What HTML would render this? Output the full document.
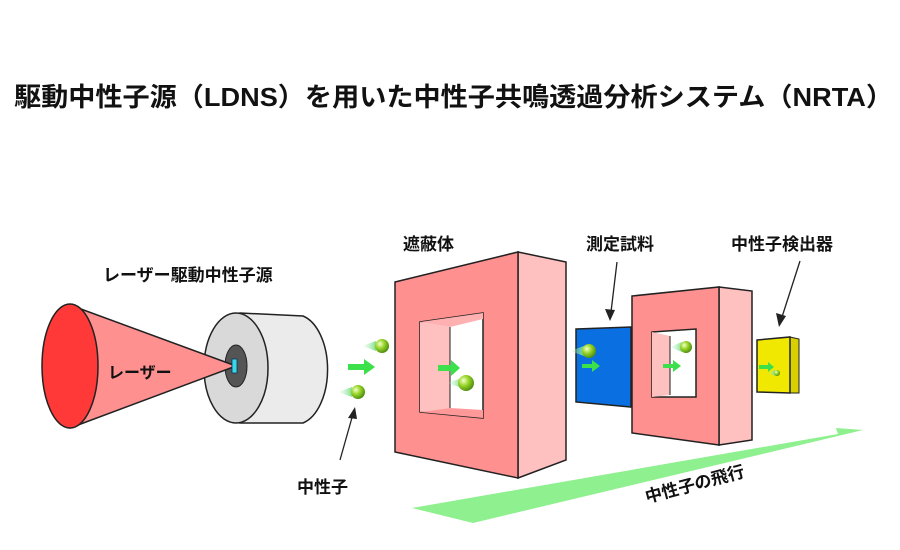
<!DOCTYPE html>
<html><head><meta charset="utf-8"><style>
html,body{margin:0;padding:0;background:#fff;}
svg{display:block;}
text{font-family:"Liberation Sans","Noto Sans CJK JP",sans-serif;font-weight:bold;fill:#111;}
</style></head><body>
<svg width="900" height="550" viewBox="0 0 900 550" xmlns="http://www.w3.org/2000/svg">
<defs>
<radialGradient id="ball" cx="0.35" cy="0.35" r="0.7">
<stop offset="0" stop-color="#f4ffd0"/><stop offset="0.45" stop-color="#9ad62a"/><stop offset="1" stop-color="#4a8a10"/>
</radialGradient>
<linearGradient id="tail" x1="0" x2="1"><stop offset="0" stop-color="#b8f0c0" stop-opacity="0"/><stop offset="1" stop-color="#7de08a"/></linearGradient>
</defs>
<text x="14" y="106" font-size="26" textLength="879" lengthAdjust="spacingAndGlyphs">駆動中性子源（LDNS）を用いた中性子共鳴透過分析システム（NRTA）</text>

<!-- floor arrow -->
<polygon points="412,508 838,434 836,428 863,430 473,523" fill="#8ef08e"/>
<text x="0" y="0" font-size="17" transform="translate(647,503) rotate(-15)">中性子の飛行</text>

<!-- cylinder -->
<path d="M240,313 L303,316 A32,55 0 0 1 303,423 L240,423 Z" fill="#ebebeb" stroke="#222" stroke-width="1.5"/>
<ellipse cx="236" cy="368" rx="32" ry="55" fill="#d9d9d9" stroke="#222" stroke-width="1.5"/>
<ellipse cx="236" cy="366" rx="11" ry="21" fill="#555" stroke="#222" stroke-width="1"/>

<!-- laser cone -->
<polygon points="70,305 236,366 70,428" fill="#ff9090" stroke="#222" stroke-width="1.5" stroke-linejoin="round"/>
<ellipse cx="70" cy="366" rx="28" ry="62" fill="#ff3838" stroke="#222" stroke-width="1.5"/>
<text x="108" y="378" font-size="16">レーザー</text>
<rect x="232" y="359" width="5" height="14" fill="#39d8e8" stroke="#135" stroke-width="0.8"/>
<text x="103" y="281" font-size="17">レーザー駆動中性子源</text>

<!-- neutrons -->
<polygon points="362,346 376,341 376,351" fill="url(#tail)"/>
<circle cx="382" cy="346" r="7" fill="url(#ball)"/>
<polygon points="338,392 352,387 352,397" fill="url(#tail)"/>
<circle cx="358" cy="392" r="7" fill="url(#ball)"/>
<polygon points="348,364 364,364 364,359 375,367 364,375 364,370 348,370" fill="#3ce04a"/>
<line x1="340" y1="460" x2="353" y2="414" stroke="#222" stroke-width="1.3"/>
<polygon points="355,407 348,418 357,419" fill="#222"/>
<text x="297" y="493" font-size="17">中性子</text>

<!-- big shield -->
<polygon points="518,252 566,262 566,460 518,478" fill="#ffc0c0" stroke="#222" stroke-width="1.5"/>
<polygon points="395,282 518,252 518,478 395,452" fill="#ff9090" stroke="#222" stroke-width="1.5"/>
<polygon points="420,322 483,313 483,418 420,412" fill="#fff" stroke="#222" stroke-width="1.5"/>
<polygon points="420,322 450,327 450,408 420,412" fill="#ffc0c0"/>
<polygon points="420,322 483,313 483,319 450,327" fill="#ffb0b0"/>
<polygon points="420,412 450,408 483,410 483,418" fill="#ff9898"/>
<line x1="450" y1="327" x2="450" y2="408" stroke="#222" stroke-width="1"/>
<polygon points="438,365 451,365 451,360 460,368 451,376 451,371 438,371" fill="#3ce04a"/>
<polygon points="447,383 462,378 462,388" fill="url(#tail)"/>
<circle cx="466" cy="383" r="8" fill="url(#ball)"/>
<text x="403" y="250" font-size="17">遮蔽体</text>

<!-- blue sample -->
<polygon points="631,327 639,329 639,406 631,407" fill="#7cc0ff" stroke="#222" stroke-width="1"/>
<polygon points="576,329 631,327 631,407 576,402" fill="#0a6fe0" stroke="#222" stroke-width="1.5"/>
<polygon points="570,351 584,346 584,356" fill="url(#tail)"/>
<circle cx="589" cy="351" r="7" fill="url(#ball)"/>
<polygon points="582,364 592,364 592,360 600,366 592,372 592,368 582,368" fill="#3ce04a"/>
<text x="586" y="250" font-size="17">測定試料</text>
<line x1="617" y1="262" x2="611" y2="312" stroke="#222" stroke-width="1.3"/>
<polygon points="610,321 605,309 615,310" fill="#222"/>

<!-- second shield -->
<polygon points="719,287 752,291 752,440 719,445" fill="#ffc0c0" stroke="#222" stroke-width="1.5"/>
<polygon points="632,296 719,287 719,445 632,433" fill="#ff9090" stroke="#222" stroke-width="1.5"/>
<polygon points="652,332 696,329 696,397 652,397" fill="#fff" stroke="#222" stroke-width="1.5"/>
<polygon points="652,332 670,336 670,395 652,397" fill="#ffc0c0"/>
<line x1="670" y1="336" x2="670" y2="395" stroke="#222" stroke-width="1"/>
<polygon points="670,347 682,342 682,352" fill="url(#tail)"/>
<circle cx="686" cy="347" r="6" fill="url(#ball)"/>
<polygon points="663,364 673,364 673,360 681,366 673,372 673,368 663,368" fill="#3ce04a"/>

<!-- detector -->
<polygon points="790,337 799,339 799,393 790,393" fill="#d8d000" stroke="#222" stroke-width="1"/>
<polygon points="757,340 790,337 790,393 757,392" fill="#f0e800" stroke="#222" stroke-width="1.5"/>
<polygon points="759,365 768,365 768,362 774,367 768,372 768,369 759,369" fill="#3ce04a"/>
<polygon points="768,373 775,370 775,376" fill="url(#tail)"/>
<circle cx="777" cy="373" r="3" fill="url(#ball)"/>
<text x="731" y="250" font-size="17">中性子検出器</text>
<line x1="800" y1="261" x2="782" y2="317" stroke="#222" stroke-width="1.3"/>
<polygon points="779,327 776,313 786,316" fill="#222"/>
</svg>
</body></html>
